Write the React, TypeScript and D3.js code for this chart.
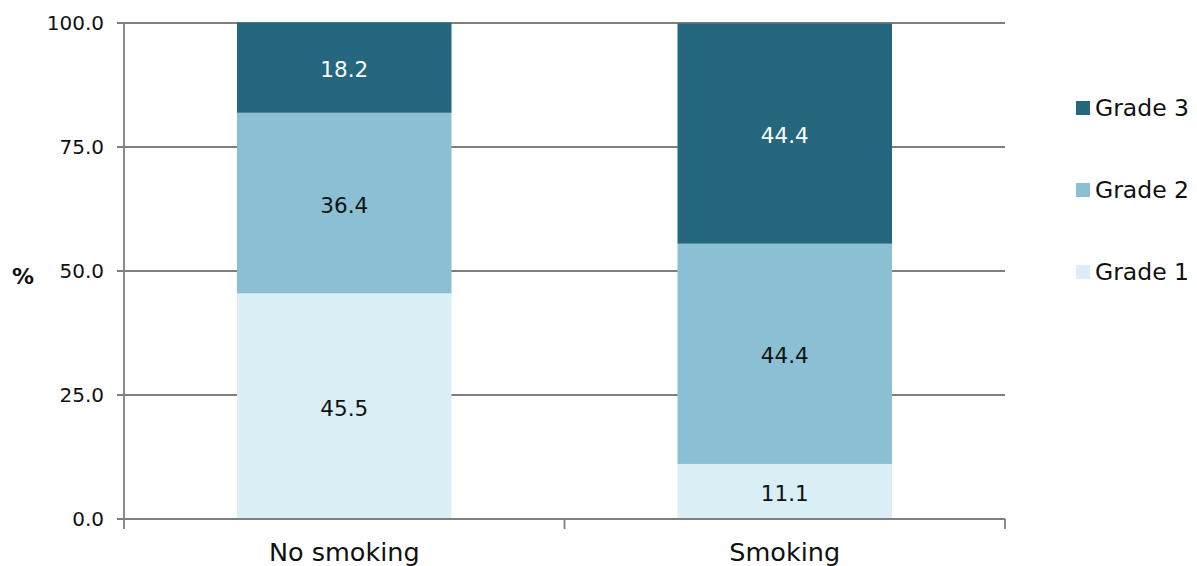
import React from "react";
import * as d3 from "d3";

// Share of tumour grades by smoking status (%)
const categories = ["No smoking", "Smoking"];
const seriesNames = ["Grade 1", "Grade 2", "Grade 3"];
const grade1 = [45.5, 11.1];
const grade2 = [36.4, 44.4];
const grade3 = [18.2, 44.4];
const yTicks = [0, 25, 50, 75, 100];
const colors = ["#DAEEF5", "#8BC0D4", "#25677F"];
const labelColors = ["#111111", "#111111", "#FFFFFF"];

const W = 1197;
const H = 566;
const plot = { left: 124, right: 1005, top: 23, bottom: 519 };
const FONT = "'DejaVu Sans', 'Noto Sans', sans-serif";
const GRID = "#7f7f7f";

export default function App() {
  const rows = categories.map((c, i) => ({
    category: c,
    "Grade 1": grade1[i],
    "Grade 2": grade2[i],
    "Grade 3": grade3[i],
  }));

  const x = d3
    .scaleBand<string>()
    .domain(categories)
    .range([plot.left, plot.right])
    .paddingInner(0.513)
    .paddingOuter(0.2565);

  const y = d3.scaleLinear().domain([0, 100]).range([plot.bottom, plot.top]);

  const stacked = d3.stack<any>().keys(seriesNames)(rows);
  const fmt = d3.format(".1f");

  // category boundaries for the x-axis tick marks
  const step = (plot.right - plot.left) / categories.length;
  const xTickPos = d3.range(categories.length + 1).map((i) => plot.left + i * step);

  const legendY = d3
    .scalePoint<string>()
    .domain([...seriesNames].reverse())
    .range([108, 272]);

  return (
    <svg
      width={W}
      height={H}
      style={{ position: "absolute", left: 0, top: 0, background: "#fff" }}
      fontFamily={FONT}
    >
      {/* horizontal gridlines */}
      {yTicks.map((t) => (
        <line
          key={"g" + t}
          x1={plot.left - 7}
          x2={plot.right}
          y1={y(t)}
          y2={y(t)}
          stroke={GRID}
          strokeWidth={1.8}
        />
      ))}
      {/* y tick labels */}
      {yTicks.map((t) => (
        <text
          key={"yl" + t}
          x={104}
          y={y(t)}
          textAnchor="end"
          dominantBaseline="central"
          fontSize={20}
          fill="#111"
        >
          {fmt(t)}
        </text>
      ))}
      <text x={23} y={276} textAnchor="middle" dominantBaseline="central" fontSize={22} fontWeight={700} fill="#111">
        %
      </text>

      {/* stacked bars */}
      {stacked.map((layer, si) =>
        layer.map((d, ci) => (
          <rect
            key={`r${si}-${ci}`}
            x={x(categories[ci])!}
            width={x.bandwidth()}
            y={y(d[1])}
            height={y(d[0]) - y(d[1])}
            fill={colors[si]}
          />
        ))
      )}
      {stacked.map((layer, si) =>
        layer.map((d, ci) => (
          <text
            key={`t${si}-${ci}`}
            x={x(categories[ci])! + x.bandwidth() / 2}
            y={(y(d[0]) + y(d[1])) / 2 + 2}
            textAnchor="middle"
            dominantBaseline="central"
            fontSize={21.5}
            fill={labelColors[si]}
          >
            {fmt(d[1] - d[0])}
          </text>
        ))
      )}

      {/* axes */}
      <line x1={plot.left} x2={plot.left} y1={plot.top} y2={plot.bottom} stroke={GRID} strokeWidth={1.8} />
      <line x1={plot.left} x2={plot.right} y1={plot.bottom} y2={plot.bottom} stroke={GRID} strokeWidth={1.8} />
      {xTickPos.map((p, i) => (
        <line key={"xt" + i} x1={p} x2={p} y1={plot.bottom} y2={plot.bottom + 10} stroke={GRID} strokeWidth={1.8} />
      ))}
      {categories.map((c) => (
        <text
          key={"xl" + c}
          x={x(c)! + x.bandwidth() / 2}
          y={561}
          textAnchor="middle"
          fontSize={25.5}
          fill="#111"
        >
          {c}
        </text>
      ))}

      {/* legend */}
      {seriesNames.map((s, i) => (
        <g key={"lg" + s} transform={`translate(1076,${legendY(s)})`}>
          <rect x={0} y={-7} width={14} height={14} fill={colors[i]} />
          <text x={19} y={0} dominantBaseline="central" fontSize={23.5} fill="#111">
            {s}
          </text>
        </g>
      ))}
    </svg>
  );
}
